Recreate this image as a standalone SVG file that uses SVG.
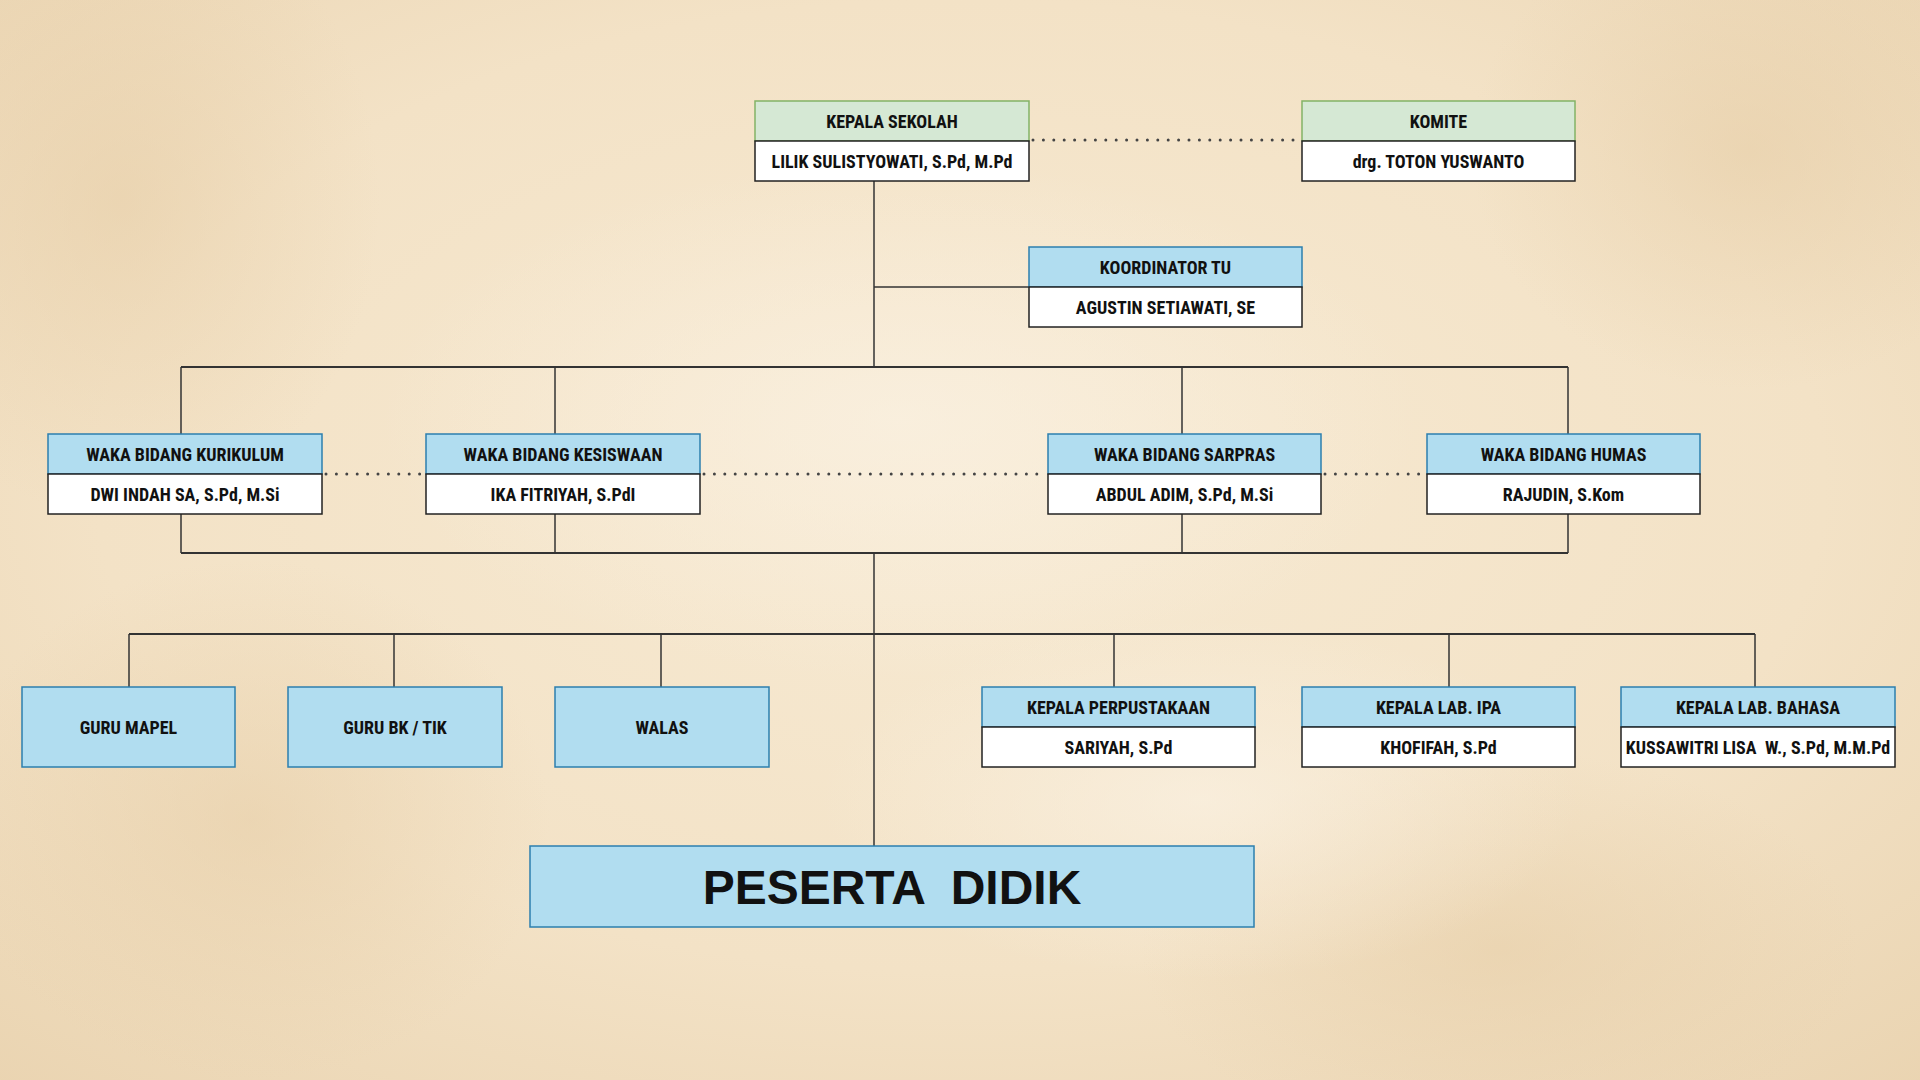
<svg xmlns="http://www.w3.org/2000/svg" width="1920" height="1080" viewBox="0 0 1920 1080">
<defs>
<style>
.g{fill:#d5e8d4;stroke:#82b366;stroke-width:1.5}
.b{fill:#b1ddf0;stroke:#2c7fae;stroke-width:1.5}
.w{fill:#ffffff;stroke:#222;stroke-width:1.5}
.t{font-family:"Liberation Sans Narrow","Roboto Condensed","DejaVu Sans Condensed","Liberation Sans",sans-serif;font-weight:bold;font-size:18px;fill:#111;text-anchor:middle;dominant-baseline:central}
.big{font-family:"Liberation Sans",Arial,sans-serif;font-weight:bold;font-size:48px;fill:#111;text-anchor:middle;dominant-baseline:central;white-space:pre}
.ln{fill:none;stroke:#333;stroke-width:1.5}
.bus{fill:none;stroke:#333;stroke-width:2}
.dot{fill:none;stroke:#444;stroke-width:3;stroke-dasharray:0 10.4;stroke-linecap:round}
</style>
<radialGradient id="bg1" cx="0.5" cy="0.45" r="0.75">
<stop offset="0" stop-color="#f7ead3"/>
<stop offset="0.6" stop-color="#f3e2c6"/>
<stop offset="1" stop-color="#ead4b1"/>
</radialGradient>
<radialGradient id="bl1" cx="0.5" cy="0.5" r="0.5">
<stop offset="0" stop-color="#e6cda6" stop-opacity="0.55"/>
<stop offset="1" stop-color="#e6cda6" stop-opacity="0"/>
</radialGradient>
<radialGradient id="bl2" cx="0.5" cy="0.5" r="0.5">
<stop offset="0" stop-color="#faf1e2" stop-opacity="0.7"/>
<stop offset="1" stop-color="#faf1e2" stop-opacity="0"/>
</radialGradient>
</defs>
<g id="background">
<rect x="0" y="0" width="1920" height="1080" fill="url(#bg1)"/>
<ellipse cx="120" cy="200" rx="260" ry="320" fill="url(#bl1)"/>
<ellipse cx="250" cy="820" rx="300" ry="260" fill="url(#bl1)"/>
<ellipse cx="1750" cy="150" rx="280" ry="240" fill="url(#bl1)"/>
<ellipse cx="1500" cy="950" rx="360" ry="200" fill="url(#bl1)"/>
<ellipse cx="900" cy="420" rx="520" ry="260" fill="url(#bl2)"/>
<ellipse cx="1200" cy="800" rx="380" ry="180" fill="url(#bl2)"/>
</g>
<g id="connectors">
<line class="dot" x1="1033" y1="140" x2="1300" y2="140"/>
<line class="dot" x1="326" y1="474" x2="424" y2="474"/>
<line class="dot" x1="704" y1="474" x2="1046" y2="474"/>
<line class="dot" x1="1325" y1="474" x2="1425" y2="474"/>
<line class="ln" x1="874" y1="181" x2="874" y2="367"/>
<line class="ln" x1="874" y1="287" x2="1029" y2="287"/>
<polyline class="bus" points="181,367 1568,367"/>
<line class="ln" x1="181" y1="367" x2="181" y2="434"/>
<line class="ln" x1="555" y1="367" x2="555" y2="434"/>
<line class="ln" x1="1182" y1="367" x2="1182" y2="434"/>
<line class="ln" x1="1568" y1="367" x2="1568" y2="434"/>
<line class="ln" x1="181" y1="514" x2="181" y2="553"/>
<line class="ln" x1="555" y1="514" x2="555" y2="553"/>
<line class="ln" x1="1182" y1="514" x2="1182" y2="553"/>
<line class="ln" x1="1568" y1="514" x2="1568" y2="553"/>
<polyline class="bus" points="181,553 1568,553"/>
<line class="ln" x1="874" y1="553" x2="874" y2="846"/>
<polyline class="bus" points="129,634 1755,634"/>
<line class="ln" x1="129" y1="634" x2="129" y2="687"/>
<line class="ln" x1="394" y1="634" x2="394" y2="687"/>
<line class="ln" x1="661" y1="634" x2="661" y2="687"/>
<line class="ln" x1="1114" y1="634" x2="1114" y2="687"/>
<line class="ln" x1="1449" y1="634" x2="1449" y2="687"/>
<line class="ln" x1="1755" y1="634" x2="1755" y2="687"/>
</g>
<g id="kepala-sekolah">
<rect class="g" x="755" y="101" width="274" height="40"/>
<rect class="w" x="755" y="141" width="274" height="40"/>
<text class="t" x="892" y="121">KEPALA SEKOLAH</text>
<text class="t" x="892" y="161">LILIK SULISTYOWATI, S.Pd, M.Pd</text>
</g>
<g id="komite">
<rect class="g" x="1302" y="101" width="273" height="40"/>
<rect class="w" x="1302" y="141" width="273" height="40"/>
<text class="t" x="1438.5" y="121">KOMITE</text>
<text class="t" x="1438.5" y="161">drg. TOTON YUSWANTO</text>
</g>
<g id="koordinator-tu">
<rect class="b" x="1029" y="247" width="273" height="40"/>
<rect class="w" x="1029" y="287" width="273" height="40"/>
<text class="t" x="1165.5" y="267">KOORDINATOR TU</text>
<text class="t" x="1165.5" y="307">AGUSTIN SETIAWATI, SE</text>
</g>
<g id="waka-kurikulum">
<rect class="b" x="48" y="434" width="274" height="40"/>
<rect class="w" x="48" y="474" width="274" height="40"/>
<text class="t" x="185" y="454">WAKA BIDANG KURIKULUM</text>
<text class="t" x="185" y="494">DWI INDAH SA, S.Pd, M.Si</text>
</g>
<g id="waka-kesiswaan">
<rect class="b" x="426" y="434" width="274" height="40"/>
<rect class="w" x="426" y="474" width="274" height="40"/>
<text class="t" x="563" y="454">WAKA BIDANG KESISWAAN</text>
<text class="t" x="563" y="494">IKA FITRIYAH, S.PdI</text>
</g>
<g id="waka-sarpras">
<rect class="b" x="1048" y="434" width="273" height="40"/>
<rect class="w" x="1048" y="474" width="273" height="40"/>
<text class="t" x="1184.5" y="454">WAKA BIDANG SARPRAS</text>
<text class="t" x="1184.5" y="494">ABDUL ADIM, S.Pd, M.Si</text>
</g>
<g id="waka-humas">
<rect class="b" x="1427" y="434" width="273" height="40"/>
<rect class="w" x="1427" y="474" width="273" height="40"/>
<text class="t" x="1563.5" y="454">WAKA BIDANG HUMAS</text>
<text class="t" x="1563.5" y="494">RAJUDIN, S.Kom</text>
</g>
<g id="guru-mapel">
<rect class="b" x="22" y="687" width="213" height="80"/>
<text class="t" x="128.5" y="727">GURU MAPEL</text>
</g>
<g id="guru-bk-tik">
<rect class="b" x="288" y="687" width="214" height="80"/>
<text class="t" x="395" y="727">GURU BK / TIK</text>
</g>
<g id="walas">
<rect class="b" x="555" y="687" width="214" height="80"/>
<text class="t" x="662" y="727">WALAS</text>
</g>
<g id="kepala-perpustakaan">
<rect class="b" x="982" y="687" width="273" height="40"/>
<rect class="w" x="982" y="727" width="273" height="40"/>
<text class="t" x="1118.5" y="707">KEPALA PERPUSTAKAAN</text>
<text class="t" x="1118.5" y="747">SARIYAH, S.Pd</text>
</g>
<g id="kepala-lab-ipa">
<rect class="b" x="1302" y="687" width="273" height="40"/>
<rect class="w" x="1302" y="727" width="273" height="40"/>
<text class="t" x="1438.5" y="707">KEPALA LAB. IPA</text>
<text class="t" x="1438.5" y="747">KHOFIFAH, S.Pd</text>
</g>
<g id="kepala-lab-bahasa">
<rect class="b" x="1621" y="687" width="274" height="40"/>
<rect class="w" x="1621" y="727" width="274" height="40"/>
<text class="t" x="1758" y="707">KEPALA LAB. BAHASA</text>
<text class="t" x="1758" y="747" xml:space="preserve">KUSSAWITRI LISA  W., S.Pd, M.M.Pd</text>
</g>
<g id="peserta-didik">
<rect class="b" x="530" y="846" width="724" height="81"/>
<text class="big" x="892" y="887" xml:space="preserve">PESERTA  DIDIK</text>
</g>
</svg>
